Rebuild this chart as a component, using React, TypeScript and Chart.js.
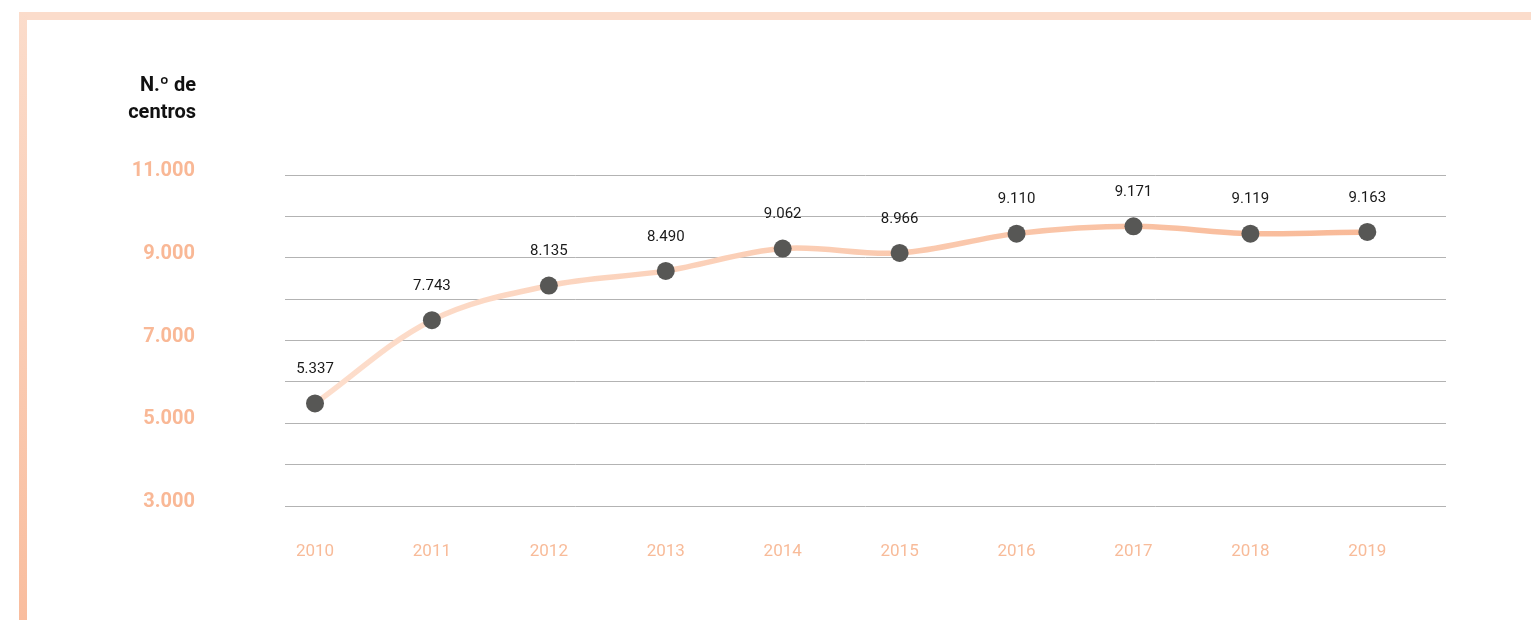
import React, { useEffect, useRef } from 'react';
import { Chart, registerables } from 'chart.js';

Chart.register(...registerables);

// ---- data ----
const years = ['2010', '2011', '2012', '2013', '2014', '2015', '2016', '2017', '2018', '2019'];
// values as drawn on the reference's vertical scale
const plottedValues = [5478, 7490, 8327, 8682, 9221, 9117, 9583, 9759, 9583, 9624];
// printed data labels
const valueLabels = ['5.337', '7.743', '8.135', '8.490', '9.062', '8.966', '9.110', '9.171', '9.119', '9.163'];
const yLabelledTicks = [3000, 5000, 7000, 9000, 11000];
const yAxisTitle = ['N.º de', 'centros'];

const fmt = (v: number) => String(v).replace(/\B(?=(\d{3})+(?!\d))/g, '.');

const FONT = 'Roboto, "Open Sans", sans-serif';

const labelPlugin = {
  id: 'valueLabels',
  afterDatasetsDraw(chart: any) {
    const meta = chart.getDatasetMeta(0);
    const ctx = chart.ctx;
    ctx.save();
    ctx.font = `400 15px ${FONT}`;
    ctx.fillStyle = '#1a1a1a';
    ctx.textAlign = 'center';
    ctx.textBaseline = 'middle';
    meta.data.forEach((pt: any, i: number) => {
      ctx.fillText(valueLabels[i], pt.x, pt.y - 34);
    });
    ctx.restore();
  },
};

export default function App() {
  const canvasRef = useRef<HTMLCanvasElement | null>(null);

  useEffect(() => {
    document.body.style.margin = '0';
    const canvas = canvasRef.current;
    if (!canvas) return;
    const chart = new Chart(canvas, {
      type: 'line',
      data: {
        datasets: [
          {
            data: plottedValues.map((v, i) => ({ x: i, y: v })),
            borderColor: (c: any) => {
              const { chart: ch } = c;
              const area = ch.chartArea;
              if (!area) return '#f9c4a6';
              const g = ch.ctx.createLinearGradient(area.left, 0, area.right, 0);
              g.addColorStop(0, '#fddfce');
              g.addColorStop(1, '#f8b794');
              return g;
            },
            borderWidth: 5.5,
            tension: 0.35,
            pointRadius: 9,
            pointHoverRadius: 9,
            pointBackgroundColor: '#575755',
            pointBorderWidth: 0,
            fill: false,
          },
        ],
      },
      options: {
        responsive: false,
        animation: false,
        events: [],
        layout: { padding: { top: 175, right: 85, left: 0, bottom: 0 } },
        plugins: {
          legend: { display: false },
          tooltip: { enabled: false },
        },
        scales: {
          x: {
            type: 'linear',
            min: -0.2566,
            max: 9.673,
            afterBuildTicks: (s: any) => {
              s.ticks = years.map((_, i) => ({ value: i }));
            },
            afterFit: (s: any) => {
              s.height = 114;
            },
            ticks: {
              callback: (v: any) => years[v as number] ?? '',
              color: '#f8bb99',
              font: { family: FONT, size: 17, weight: '400' },
              padding: 36,
              maxRotation: 0,
              autoSkip: false,
            },
            grid: { display: false, drawTicks: false },
            border: { display: false },
          },
          y: {
            min: 3000,
            max: 11000,
            afterFit: (s: any) => {
              s.width = 285;
            },
            ticks: {
              stepSize: 1000,
              callback: (v: any) => (yLabelledTicks.includes(v as number) ? fmt(v as number) : ''),
              color: '#f9b896',
              font: { family: FONT, size: 20, weight: 'bold' },
              padding: 90,
              labelOffset: -4,
            },
            grid: { color: '#b3b3b3', lineWidth: 1, drawTicks: false },
            border: { display: false },
          },
        },
      },
      plugins: [labelPlugin],
    } as any);
    return () => chart.destroy();
  }, []);

  return (
    <div style={{ position: 'relative', width: 1531, height: 620, overflow: 'hidden', background: '#fff' }}>
      <div style={{ position: 'absolute', left: 19, top: 12, width: 1512, height: 8, background: '#fbdccb' }} />
      <div
        style={{
          position: 'absolute',
          left: 19,
          top: 12,
          width: 8,
          height: 608,
          background: 'linear-gradient(to bottom, #fbdccb, #f9bd9e)',
        }}
      />
      <canvas ref={canvasRef} width={1531} height={620} style={{ position: 'absolute', left: 0, top: 0 }} />
      <div
        style={{
          position: 'absolute',
          left: 0,
          top: 71,
          width: 196,
          textAlign: 'right',
          fontFamily: FONT,
          fontWeight: 700,
          fontSize: 20,
          lineHeight: '27px',
          color: '#111',
        }}
      >
        {yAxisTitle.map((t) => (
          <div key={t}>{t}</div>
        ))}
      </div>
    </div>
  );
}
